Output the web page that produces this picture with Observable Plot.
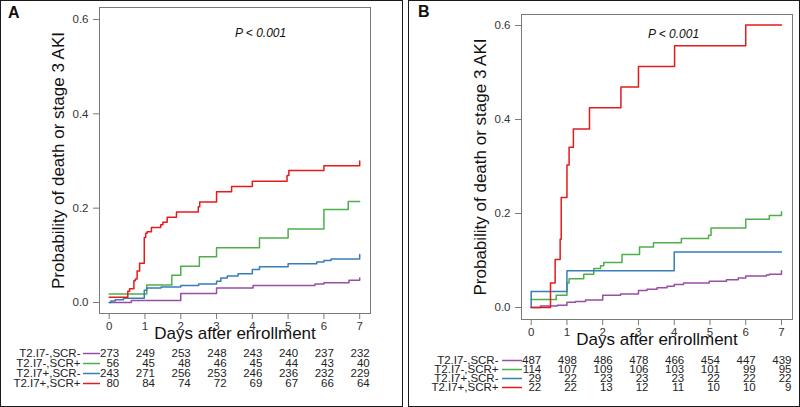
<!DOCTYPE html>
<html><head><meta charset="utf-8">
<script src="https://cdn.jsdelivr.net/npm/d3@7"></script>
<script src="https://cdn.jsdelivr.net/npm/@observablehq/plot@0.6"></script>
<style>
body{margin:0;background:#fff;}
#root{position:relative;width:800px;height:407px;overflow:hidden;font-family:"Liberation Sans",Arial,sans-serif;}
.panel{position:absolute;top:0;height:407px;box-sizing:border-box;border:1.5px solid #1a1a1a;}
.letter{position:absolute;font-weight:bold;font-size:16px;line-height:16px;color:#111;}
.abs{position:absolute;}
</style></head><body><div id="root"></div>
<script>
// ---- categories / ticks ----
const groups = ["T2.I7-,SCR-", "T2.I7-,SCR+", "T2.I7+,SCR-", "T2.I7+,SCR+"];
const groupColors = ["#984EA3", "#4DAF4A", "#377EB8", "#E41A1C"];
const dayTicks = [0, 1, 2, 3, 4, 5, 6, 7];
const probTicks = [0, 0.2, 0.4, 0.6];
const xTitle = "Days after enrollment";
const yTitle = "Probability of death or stage 3 AKI";
const pLabel = "P < 0.001";

// ---- Panel A curves ----
const aPurpleDay  = [0, 0.62, 2.0, 3.0, 4.02, 5.75, 6.0, 6.7, 7.0, 7.0];
const aPurpleProb = [0, 0.004, 0.019, 0.031, 0.036, 0.039, 0.042, 0.047, 0.047, 0.052];
const aGreenDay   = [0, 1.05, 1.75, 2.0, 2.52, 3.0, 4.2, 5.0, 6.0, 6.68, 7.0];
const aGreenProb  = [0.018, 0.037, 0.058, 0.077, 0.097, 0.116, 0.137, 0.156, 0.197, 0.214, 0.214];
const aBlueDay    = [0, 0.05, 0.17, 0.4, 0.98, 1.05, 1.45, 2.0, 2.5, 3.0, 3.12, 3.3, 3.6, 4.0, 4.2, 5.0, 5.8, 6.0, 6.2, 7.0, 7.0];
const aBlueProb   = [0, 0.003, 0.006, 0.009, 0.026, 0.031, 0.033, 0.036, 0.039, 0.045, 0.052, 0.056, 0.061, 0.070, 0.076, 0.082, 0.086, 0.089, 0.092, 0.092, 0.102];
const aRedDay     = [0, 0.52, 0.57, 0.69, 0.73, 0.78, 0.85, 0.98, 1.02, 1.06, 1.18, 1.44, 1.5, 1.62, 1.88, 2.49, 2.53, 3.0, 3.42, 4.0, 4.97, 5.02, 6.0, 7.0, 7.0];
const aRedProb    = [0.011, 0.024, 0.029, 0.046, 0.05, 0.067, 0.083, 0.138, 0.147, 0.15, 0.159, 0.165, 0.17, 0.181, 0.192, 0.203, 0.213, 0.235, 0.246, 0.257, 0.269, 0.28, 0.29, 0.29, 0.3];

// ---- Panel B curves ----
const bPurpleDay  = [0, 0.26, 0.73, 1.0, 1.24, 1.52, 2.0, 2.5, 3.0, 3.24, 3.52, 3.8, 4.0, 4.26, 4.98, 5.46, 5.79, 6.0, 6.58, 6.66, 7.0, 7.0];
const bPurpleProb = [0, 0.003, 0.005, 0.011, 0.013, 0.016, 0.026, 0.029, 0.036, 0.039, 0.042, 0.045, 0.049, 0.052, 0.056, 0.059, 0.063, 0.067, 0.069, 0.071, 0.071, 0.078];
const bGreenDay   = [0, 0.7, 1.0, 1.06, 1.47, 1.75, 1.94, 2.03, 2.54, 3.03, 3.42, 4.2, 4.96, 5.03, 6.0, 6.66, 7.0, 7.0];
const bGreenProb  = [0.017, 0.026, 0.052, 0.061, 0.071, 0.083, 0.089, 0.096, 0.113, 0.129, 0.138, 0.147, 0.154, 0.169, 0.188, 0.196, 0.196, 0.204];
const bBlueDay    = [0, 0, 1.0, 4.0, 7.0];
const bBlueProb   = [0, 0.034, 0.078, 0.118, 0.118];
const bRedDay     = [0, 0.54, 0.67, 0.81, 0.84, 1.0, 1.06, 1.18, 1.63, 2.51, 3.0, 4.01, 6.0, 7.0];
const bRedProb    = [0, 0.052, 0.102, 0.145, 0.234, 0.303, 0.341, 0.38, 0.425, 0.469, 0.513, 0.557, 0.601, 0.601];

// ---- Numbers at risk ----
const aRiskPurple = [273, 249, 253, 248, 243, 240, 237, 232];
const aRiskGreen  = [56, 45, 48, 46, 45, 44, 43, 40];
const aRiskBlue   = [243, 271, 256, 253, 246, 236, 232, 229];
const aRiskRed    = [80, 84, 74, 72, 69, 67, 66, 64];
const bRiskPurple = [487, 498, 486, 478, 466, 454, 447, 439];
const bRiskGreen  = [114, 107, 109, 106, 103, 101, 99, 95];
const bRiskBlue   = [29, 22, 23, 23, 23, 22, 22, 22];
const bRiskRed    = [22, 22, 13, 12, 11, 10, 10, 9];

// ---- build tables ----
function curve(gi, days, probs) { return days.map((d, i) => ({group: groups[gi], day: d, prob: probs[i]})); }
function risk(gi, counts) { return counts.map((n, i) => ({group: groups[gi], day: dayTicks[i], n})); }
const aCurves = [...curve(0, aPurpleDay, aPurpleProb), ...curve(1, aGreenDay, aGreenProb), ...curve(2, aBlueDay, aBlueProb), ...curve(3, aRedDay, aRedProb)];
const bCurves = [...curve(0, bPurpleDay, bPurpleProb), ...curve(1, bGreenDay, bGreenProb), ...curve(2, bBlueDay, bBlueProb), ...curve(3, bRedDay, bRedProb)];
const aRisk = [...risk(0, aRiskPurple), ...risk(1, aRiskGreen), ...risk(2, aRiskBlue), ...risk(3, aRiskRed)];
const bRisk = [...risk(0, bRiskPurple), ...risk(1, bRiskGreen), ...risk(2, bRiskBlue), ...risk(3, bRiskRed)];

const FONT = "Liberation Sans, Arial, sans-serif";
const colorScale = {domain: groups, range: groupColors};

function chart(c) {
  return Plot.plot({
    width: 400, height: 345,
    marginLeft: c.ml, marginRight: c.mr, marginTop: c.mt, marginBottom: c.mb,
    style: {background: "transparent", fontFamily: FONT, fontSize: "11.5px", color: "#333", overflow: "visible"},
    x: {domain: c.xd},
    y: {domain: c.yd},
    color: colorScale,
    marks: [
      Plot.frame({stroke: "#7a7a7a", strokeWidth: 1}),
      Plot.axisX({ticks: dayTicks, tickSize: 6, tickPadding: 2, tickFormat: d => String(d), stroke: "#7a7a7a", fill: "#333", label: null}),
      Plot.axisY({ticks: probTicks, tickSize: 6, tickPadding: 5, tickFormat: d3.format(".1f"), stroke: "#7a7a7a", fill: "#333", label: null}),
      Plot.line(c.data, {x: "day", y: "prob", z: "group", stroke: "group", curve: "step-after", strokeWidth: 1.5}),
      Plot.text([xTitle], {text: d => d, frameAnchor: "bottom", textAnchor: "middle", lineAnchor: "middle", dy: 20.5, fontSize: 17, fill: "#111"}),
      Plot.text([yTitle], {text: d => d, frameAnchor: "left", textAnchor: "middle", lineAnchor: "middle", rotate: -90, dx: -41, fontSize: 17, fill: "#111"}),
      Plot.text([pLabel], {text: d => d, x: () => c.px, y: () => c.py, fontStyle: "italic", fontSize: 12, fill: "#111"})
    ]
  });
}

function table(c) {
  return Plot.plot({
    width: 400, height: 60,
    marginLeft: c.ml, marginRight: c.mr, marginTop: c.tt, marginBottom: c.tb,
    style: {background: "transparent", fontFamily: FONT, fontSize: "11.5px", color: "#222", overflow: "visible"},
    x: {domain: c.xd, axis: null},
    y: {type: "point", domain: groups, padding: 0.5, axis: null},
    color: colorScale,
    marks: [
      Plot.text(groups, {text: d => d, y: d => d, frameAnchor: "left", textAnchor: "end", lineAnchor: "middle", dx: c.labelDx, fill: "#222"}),
      Plot.ruleY(groups, {y: d => d, x1: () => c.l1, x2: () => c.l2, stroke: d => d, strokeWidth: 1.5}),
      Plot.text(c.risk, {x: "day", y: "group", text: d => String(d.n), textAnchor: "end", lineAnchor: "middle", dx: 10, fill: "#222"})
    ]
  });
}

const root = document.getElementById("root");
function place(el, left, top) { el.classList.add("abs"); el.style.left = left + "px"; el.style.top = top + "px"; root.appendChild(el); }
function div(cls, left, width, text) { const d = document.createElement("div"); d.className = cls; d.style.left = left + "px"; if (width) d.style.width = width + "px"; if (text) d.textContent = text; root.appendChild(d); return d; }

div("panel", 0, 403);
div("panel", 408, 392);

const A = {ml: 99, mr: 30, mt: 7, mb: 32, xd: [-0.271, 7.302], yd: [-0.0233, 0.6254], data: aCurves, px: 4.23, py: 0.570,
           tt: 8, tb: 12, labelDx: -19, l1: -0.718, l2: -0.243, risk: aRisk};
const B = {ml: 121, mr: 8, mt: 14, mb: 26, xd: [-0.271, 7.308], yd: [-0.0255, 0.6234], data: bCurves, px: 3.98, py: 0.581,
           tt: 14.75, tb: 7.25, labelDx: -23, l1: -0.803, l2: -0.243, risk: bRisk};

place(chart(A), 0, 0);
place(table(A), 0, 340);
place(chart(B), 400, 0);
place(table(B), 400, 340);

const la = div("letter", 8, 0, "A"); la.style.top = "5px";
const lb = div("letter", 418, 0, "B"); lb.style.top = "4px";
</script></body></html>
